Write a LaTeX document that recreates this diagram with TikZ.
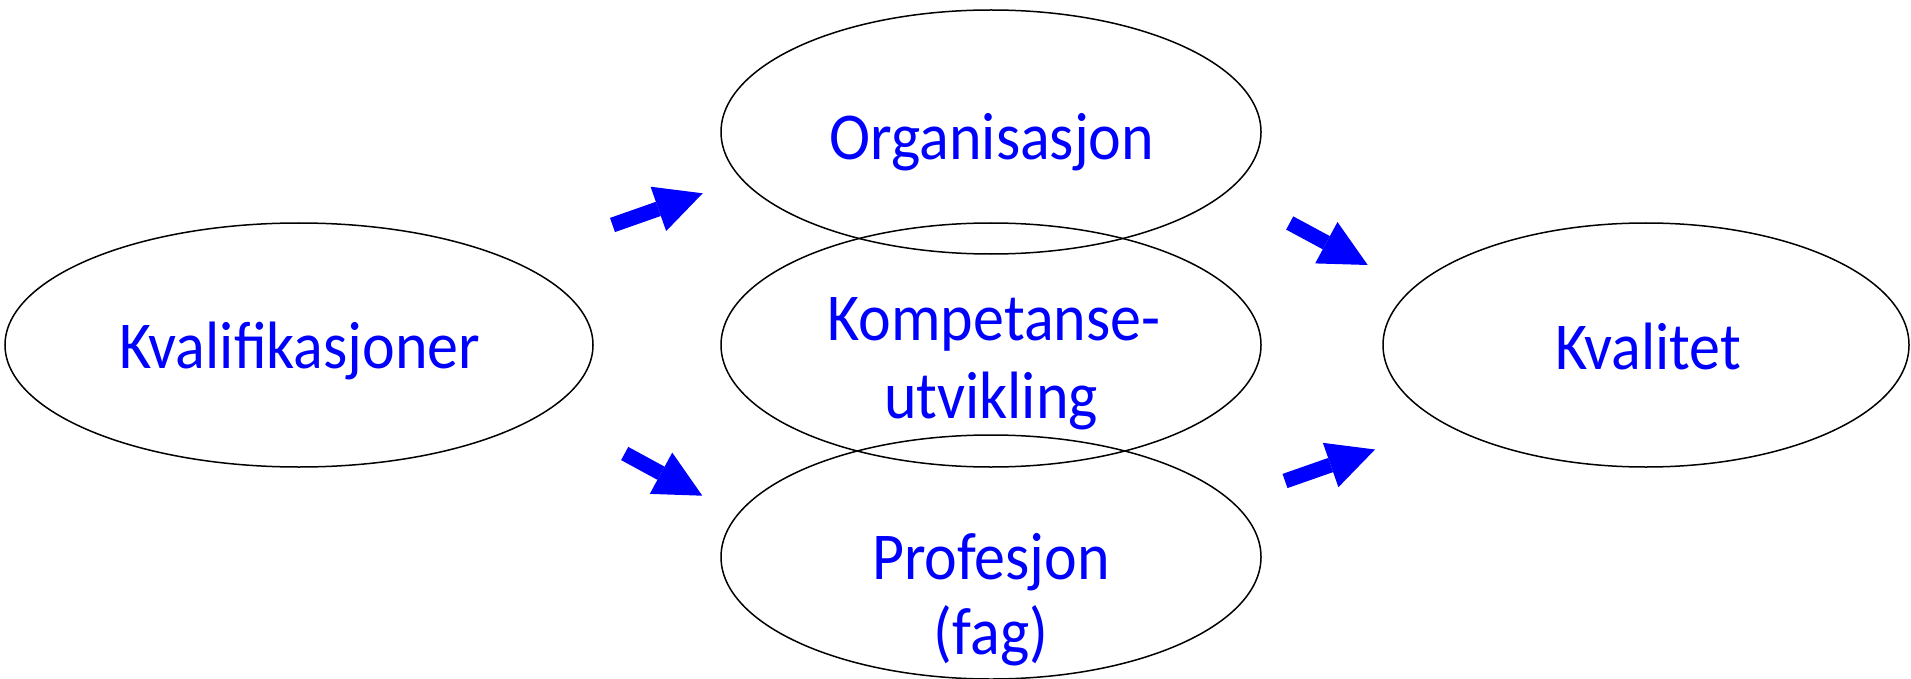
\documentclass[tikz,border=0pt]{standalone}
\usepackage{fontspec}
\setmainfont{Carlito}[FakeStretch=0.925]
\usetikzlibrary{shapes.geometric,arrows.meta}
\definecolor{labelblue}{RGB}{0,0,255}
\begin{document}
\begin{tikzpicture}[x=1pt,y=-1pt,
  oval/.style={draw=black, line width=1.5pt, ellipse, inner sep=0pt,
    minimum width=#1, minimum height=244pt},
  oval/.default=540pt,
  caption/.style={anchor=base, text=labelblue, inner sep=0pt,
    font=\fontsize{67}{77}\selectfont},
  blockarrow/.style={draw=labelblue, line width=15pt,
    -{Triangle[width=47pt,length=47pt,line width=0pt]}}]
\useasboundingbox (0,0) rectangle (1911,679);

% the five ovals
\node[oval=588pt] (kval) at (299,345) {};
\node[oval] (org)  at (991,132) {};
\node[oval] (komp) at (991,345) {};
\node[oval] (prof) at (991,557) {};
\node[oval=526pt] (kvalitet) at (1646,345) {};

% their captions
\node[caption] (kval-t)     at (300,368)  {Kvalifikasjoner};
\node[caption] (org-t)      at (992,160)  {Organisasjon};
\node[caption] (komp-t1)    at (994,340)  {Kompetanse-};
\node[caption] (komp-t2)    at (991,418)  {utvikling};
\node[caption] (prof-t1)    at (991,579)  {Profesjon};
\node[caption] (prof-t2)    at (991,654)  {(fag)};
\node[caption] (kvalitet-t) at (1648,369) {Kvalitet};

% block arrows between the columns
\coordinate (ul-s) at (612.5,225);  \coordinate (ul-e) at (702.7,193.3);
\coordinate (ll-s) at (624.7,453.5);\coordinate (ll-e) at (702.3,495.7);
\coordinate (ur-s) at (1289.7,223); \coordinate (ur-e) at (1367.7,265);
\coordinate (lr-s) at (1285,481);   \coordinate (lr-e) at (1375,449.5);
\draw[blockarrow] (ul-s) -- (ul-e);
\draw[blockarrow] (ll-s) -- (ll-e);
\draw[blockarrow] (ur-s) -- (ur-e);
\draw[blockarrow] (lr-s) -- (lr-e);
\end{tikzpicture}
\end{document}
